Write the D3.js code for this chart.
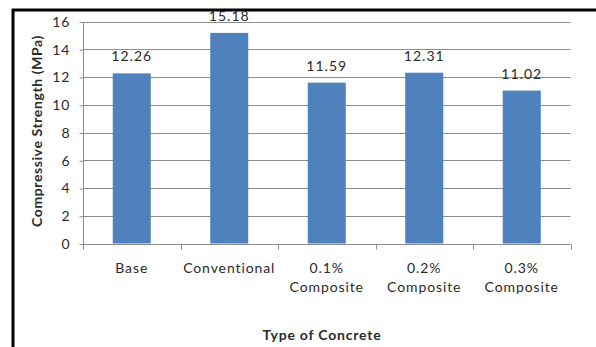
<!DOCTYPE html>
<html><head><meta charset="utf-8">
<script src="https://cdn.jsdelivr.net/npm/d3@7"></script>
<style>body{margin:0;background:#fff}svg{display:block}</style>
</head><body>
<script>
const categories = [["Base"], ["Conventional"], ["0.1%", "Composite"], ["0.2%", "Composite"], ["0.3%", "Composite"]];
const values = [12.26, 15.18, 11.59, 12.31, 11.02];
const yTicks = [0, 2, 4, 6, 8, 10, 12, 14, 16];
const yTitle = "Compressive Strength (MPa)";
const xTitle = "Type of Concrete";

(function () {
const W = 596, H = 347;
const svg = d3.select("body").append("svg").attr("width", W).attr("height", H);
svg.append("rect").attr("width", W).attr("height", H).attr("fill", "#fff");
// frame (left and top)
svg.append("line").attr("x1", 13).attr("x2", 13).attr("y1", 9).attr("y2", H).attr("stroke", "#000").attr("stroke-width", 3);
svg.append("line").attr("x1", 12).attr("x2", W).attr("y1", 10).attr("y2", 10).attr("stroke", "#000").attr("stroke-width", 3);

const mLeft = 83, mRight = 570.5, mTop = 21.5, mBottom = 243.5;
const x = d3.scaleBand().domain(d3.range(categories.length)).range([mLeft, mRight]).paddingInner(0.61).paddingOuter(0.305);
const y = d3.scaleLinear().domain([0, 16]).range([mBottom, mTop]);

const font = "Lato, 'Open Sans', sans-serif";
const txt = "#2a2a2a";
// gridlines
svg.append("g").selectAll("line").data(yTicks.filter(d => d > 0)).join("line")
  .attr("x1", mLeft).attr("x2", mRight).attr("y1", d => Math.round(y(d)) + 0.5).attr("y2", d => Math.round(y(d)) + 0.5)
  .attr("stroke", "#8c8c8c").attr("stroke-width", 1);

// bars
svg.append("g").selectAll("rect").data(values).join("rect")
  .attr("x", (d, i) => x(i)).attr("width", x.bandwidth())
  .attr("y", d => y(d)).attr("height", d => y(0) - y(d))
  .attr("fill", "#4f81bd");

// data labels
svg.append("g").selectAll("text").data(values).join("text")
  .attr("x", (d, i) => x(i) + x.bandwidth() / 2).attr("y", d => y(d) - 12)
  .attr("text-anchor", "middle").attr("font-family", font).attr("font-size", 14).attr("letter-spacing", 1).attr("fill", txt)
  .text(d => d.toFixed(2));

// y axis
const yAxis = d3.axisLeft(y).tickValues(yTicks).tickSize(4).tickPadding(9);
const gy = svg.append("g").attr("transform", `translate(${mLeft + 0.5},0.5)`).call(yAxis);
gy.selectAll("text").attr("font-family", font).attr("font-size", 14).attr("letter-spacing", 1).attr("fill", txt);
gy.selectAll("line, path").attr("stroke", "#8c8c8c");
gy.select(".domain").attr("d", `M0,${mTop}V${mBottom}`);

// x axis
const xb = d3.scaleLinear().domain([0, categories.length]).range([mLeft, mRight]);
const gx = svg.append("g").attr("transform", `translate(0,${Math.round(mBottom) + 0.5})`);
gx.append("line").attr("x1", mLeft).attr("x2", mRight).attr("stroke", "#8c8c8c");
gx.selectAll(".tk").data(d3.range(categories.length + 1)).join("line").attr("class", "tk")
  .attr("x1", d => Math.round(xb(d)) + 0.5).attr("x2", d => Math.round(xb(d)) + 0.5).attr("y1", 0).attr("y2", 5)
  .attr("stroke", "#8c8c8c");
gx.selectAll(".lbl").data(categories).join("text").attr("class", "lbl")
  .attr("x", (d, i) => x(i) + x.bandwidth() / 2)
  .attr("text-anchor", "middle").attr("font-family", font).attr("font-size", 14).attr("letter-spacing", 0.9).attr("fill", txt)
  .each(function(d) {
    const cx = d3.select(this).attr("x");
    d3.select(this).selectAll("tspan").data(d).join("tspan")
      .attr("x", cx).attr("y", (t, j) => 28 + j * 19).text(t => t);
  });

// titles
svg.append("text").attr("x", 322).attr("y", 340).attr("text-anchor", "middle")
  .attr("font-family", font).attr("font-weight", "bold").attr("font-size", 14).attr("letter-spacing", 0.8).attr("fill", txt).text(xTitle);
svg.append("text").attr("transform", "translate(42,131) rotate(-90)").attr("text-anchor", "middle")
  .attr("font-family", font).attr("font-weight", "bold").attr("font-size", 14).attr("letter-spacing", 0.6).attr("fill", txt).text(yTitle);
})();
</script>
</body></html>
